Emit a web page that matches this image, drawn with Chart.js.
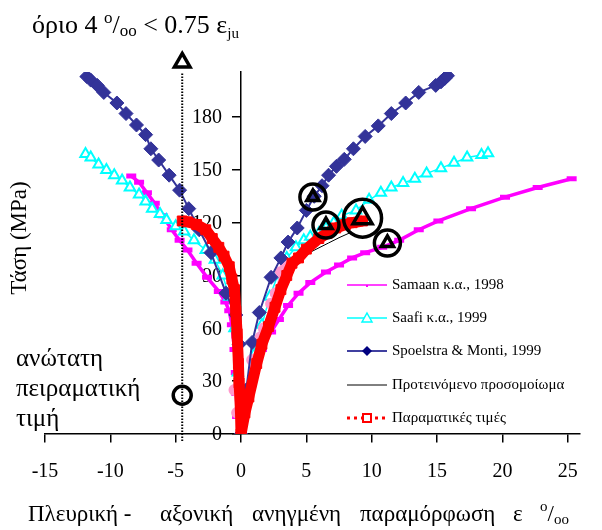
<!DOCTYPE html>
<html>
<head>
<meta charset="utf-8">
<script src="https://cdn.jsdelivr.net/npm/chart.js@4.4.0/dist/chart.umd.min.js"></script>
<style>
  body { margin: 0; background: #fff; }
</style>
</head>
<body>
<canvas id="stressChart" width="602" height="530"></canvas>
<script>
// strain (o/oo) and stress (MPa) for each curve, lateral branch first (negative strain)
var samaanX = [-8.4, -7.8, -7.2, -6.6, -6.0, -5.3, -4.7, -4.1, -3.4, -2.6, -1.7, -1.2, -0.9, -0.7, -0.5, -0.4, -0.35, -0.3, 0,
               0.1, 0.8, 1.6, 2.3, 2.9, 3.6, 4.4, 5.3, 6.5, 7.5, 8.5, 9.5, 10.8, 12.1, 13.6, 15.1, 17.6, 20.2, 22.7, 25.3];
var samaanY = [146.5, 143, 137, 131, 124, 116, 110, 104.5, 97, 89, 81, 75, 70, 62, 48, 35, 23, 10, 0,
               10, 28, 48, 58, 65, 73, 80, 86, 92, 96, 100, 103, 106, 110, 116, 121, 128, 134.5, 140, 145];

var saafiX = [-11.9, -11.5, -10.9, -10.3, -9.7, -9.1, -8.5, -7.8, -7.3, -6.8, -6.2, -5.7, -5.0, -4.35, -3.6, -2.7, -2.0, -1.4, -0.9, -0.5, -0.25, 0,
              0.5, 1.0, 1.6, 2.2, 2.8, 3.5, 4.2, 4.8, 5.3, 5.95, 6.5, 7.1, 7.7, 8.8, 9.8, 10.7, 11.5, 12.4, 13.3, 14.2, 15.3, 16.3, 17.3, 18.4, 18.9];
var saafiY = [159, 157, 153, 150, 147, 144, 140, 136, 132, 128, 125, 121.5, 118, 115, 110, 104.5, 99, 90, 78, 60, 35, 0,
              25, 45, 62, 78, 90, 100, 106, 110, 112, 114, 117, 120, 124, 127, 133, 137, 140, 142.5, 145, 148, 151, 154, 157, 158.5, 159.5];

var spoelstraX = [-11.8, -11.5, -11.0, -10.5, -9.5, -8.8, -8.0, -7.3, -6.9, -6.3, -5.5, -4.7, -4.0, -3.2, -2.3, -1.15, -0.4, -0.15, 0,
                  0.4, 0.85, 1.4, 2.3, 3.05, 3.6, 4.3, 5.0, 5.6, 6.2, 6.7, 7.3, 7.9, 8.6, 9.5, 10.5, 11.5, 12.6, 13.6, 14.9, 15.3, 15.6, 15.8];
var spoelstraY = [203, 201, 198, 194, 188, 182, 175.5, 170, 162, 155.6, 147, 138.5, 128, 116, 103, 80, 67.6, 51, 0,
                  25, 52, 69, 89, 100, 109, 117, 127, 135, 141, 147, 152, 156, 162, 169, 175, 182, 188, 194, 198, 200, 202, 203.5];

var modelX = [-4.5, -3.4, -2.2, -1.3, -0.7, -0.4, -0.2, 0,
              0.5, 1.0, 1.5, 2.0, 3.0, 4.0, 4.7, 5.5, 6.7, 7.5, 8.4];
var modelY = [120, 117, 110, 100, 85, 60, 30, 0,
              20, 37, 51, 63, 82, 95, 100, 104, 108.5, 111.5, 114.5];

var testX = [-4.5, -4.1, -3.4, -2.7, -2.2, -1.7, -1.3, -0.9, -0.7, -0.5, -0.4, -0.3, -0.2, -0.15, -0.05, 0,
             0.3, 0.6, 1.2, 1.6, 2.1, 2.6, 3.05, 3.5, 3.9, 4.4, 5.0, 5.95, 6.6, 7.25, 8.0, 8.5, 9.3];
var testY = [121, 120.5, 119, 116, 111, 106, 101, 95, 88, 82, 70, 57, 40, 29, 15, 0,
             12, 21, 40, 51, 61, 72, 82, 90, 97, 100, 105, 111, 114, 117, 119, 120, 121];

var pinkX = [-0.5, -0.3, 0, 0.3, 0.85, 1.5, 1.75, 2.3, 2.65, 3.05, 3.4];
var pinkY = [25, 12, 0, 20, 42, 55, 60, 74, 80, 92, 97];

// ultimate points of the models, ringed
var peakX = [5.5, 6.5, 9.3, 11.2];
var peakY = [134.6, 118.7, 122.6, 108.5];
var peakRing = [13, 13, 19, 13];
var peakTri = [7, 7, 11, 7];

// 4 o/oo strain limit and highest measured value
var limitX = -4.5;
var limitTop = 211;
var maxTestY = 22;

var seriesNames = ['Samaan κ.α., 1998', 'Saafi κ.α., 1999', 'Spoelstra & Monti, 1999',
                   'Προτεινόμενο προσομοίωμα', 'Παραματικές τιμές'];

var xTicks = [-15, 25, 5];
var yTicks = [0, 180, 30];

var SERIF = '"Liberation Serif", "Times New Roman", serif';
var NAVY = '#333399';

function pts(xs, ys) {
  return xs.map(function (x, i) { return { x: x, y: ys[i] }; });
}

function drawRuns(ctx, x, y, runs) {
  runs.forEach(function (r) {
    ctx.font = r.s + 'px ' + SERIF;
    if (r.x !== undefined) x = r.x;
    ctx.fillText(r.t, x, y + (r.dy || 0));
    x += ctx.measureText(r.t).width;
  });
}

var textPlugin = {
  id: 'texts',
  // y tick labels sit under the curves
  beforeDatasetsDraw: function (chart) {
    var ctx = chart.ctx;
    var ys = chart.scales.y;
    var x0 = chart.scales.x.getPixelForValue(0);
    ctx.save();
    ctx.fillStyle = '#000';
    ctx.font = '20px ' + SERIF;
    ctx.textAlign = 'right';
    ctx.textBaseline = 'middle';
    ys.ticks.forEach(function (t) {
      ctx.fillText(String(t.value), x0 - 19, ys.getPixelForValue(t.value) + 1);
    });
    ctx.restore();
  },
  afterDraw: function (chart) {
    var ctx = chart.ctx;
    ctx.save();
    ctx.fillStyle = '#000';
    ctx.textAlign = 'left';
    ctx.textBaseline = 'alphabetic';

    // heading
    drawRuns(ctx, 32, 33, [
      { t: 'όριο 4 ', s: 26 }, { t: 'o', s: 17, dy: -10 }, { t: '/', s: 26 },
      { t: 'oo', s: 17, dy: 3 }, { t: ' < 0.75 ε', s: 26 }, { t: 'ju', s: 15, dy: 5 }
    ]);

    // x title
    drawRuns(ctx, 28, 521, [
      { t: 'Πλευρική -', s: 23, x: 28 }, { t: 'αξονική', s: 23, x: 160 },
      { t: 'ανηγμένη', s: 23, x: 252 }, { t: 'παραμόρφωση', s: 23, x: 360 },
      { t: 'ε', s: 23, x: 513 }, { t: 'o', s: 15, dy: -10, x: 540 },
      { t: '/', s: 23 }, { t: 'oo', s: 15, dy: 3 }
    ]);

    // notes beside the limit line
    ctx.font = '25px ' + SERIF;
    ctx.fillText('ανώτατη', 16, 366);
    ctx.fillText('πειραματική', 16, 396);
    ctx.fillText('τιμή', 16, 426);

    // y title
    ctx.save();
    ctx.translate(26, 238);
    ctx.rotate(-Math.PI / 2);
    ctx.textAlign = 'center';
    ctx.font = '23px ' + SERIF;
    ctx.fillText('Τάση (MPa)', 0, 0);
    ctx.restore();

    // legend
    var rows = [285, 318, 351, 385, 418];
    ctx.font = '15px ' + SERIF;
    ctx.textBaseline = 'middle';
    rows.forEach(function (y, i) {
      ctx.save();
      ctx.lineWidth = 1.5;
      if (i === 0) ctx.strokeStyle = '#ff00ff';
      if (i === 1) ctx.strokeStyle = '#00ffff';
      if (i === 2) ctx.strokeStyle = '#000080';
      if (i === 3) { ctx.strokeStyle = '#000'; ctx.lineWidth = 1; }
      if (i === 4) { ctx.strokeStyle = '#ff0000'; ctx.lineWidth = 3; ctx.setLineDash([3, 4]); }
      ctx.beginPath();
      ctx.moveTo(347, y);
      ctx.lineTo(387, y);
      ctx.stroke();
      ctx.setLineDash([]);
      if (i === 0) {
        ctx.lineWidth = 2;
        ctx.beginPath(); ctx.moveTo(367, y); ctx.lineTo(367, y + 2); ctx.stroke();
      }
      if (i === 1) {
        ctx.fillStyle = '#fff';
        ctx.lineWidth = 1.5;
        ctx.beginPath();
        ctx.moveTo(367, y - 5); ctx.lineTo(372, y + 4); ctx.lineTo(362, y + 4); ctx.closePath();
        ctx.fill(); ctx.stroke();
      }
      if (i === 2) {
        ctx.fillStyle = '#000080';
        ctx.beginPath();
        ctx.moveTo(367, y - 5); ctx.lineTo(372, y); ctx.lineTo(367, y + 5); ctx.lineTo(362, y); ctx.closePath();
        ctx.fill();
      }
      if (i === 4) {
        ctx.fillStyle = '#fff';
        ctx.lineWidth = 2;
        ctx.fillRect(363, y - 4, 8, 8);
        ctx.strokeRect(363, y - 4, 8, 8);
      }
      ctx.restore();
      ctx.fillStyle = '#000';
      ctx.fillText(seriesNames[i], 392, y);
    });
    ctx.restore();
  }
};

new Chart(document.getElementById('stressChart').getContext('2d'), {
  type: 'scatter',
  data: {
    datasets: [
      {
        label: 'peaks', data: pts(peakX, peakY), order: 0,
        pointStyle: 'circle', pointRadius: peakRing, pointBorderWidth: 3.5,
        pointBorderColor: '#000', pointBackgroundColor: 'rgba(0,0,0,0)'
      },
      {
        label: 'peaks-tri', data: pts(peakX, peakY), order: 0,
        pointStyle: 'triangle', pointRadius: peakTri, pointBorderWidth: 3.5,
        pointBorderColor: '#000', pointBackgroundColor: 'rgba(0,0,0,0)'
      },
      {
        label: 'limit', data: [{ x: limitX, y: -4 }, { x: limitX, y: limitTop - 6 }], order: 1,
        showLine: true, borderColor: '#000', borderWidth: 2, borderDash: [1.5, 1.5],
        pointRadius: 0, clip: false
      },
      {
        label: 'limit-top', data: [{ x: limitX, y: limitTop }], order: 1,
        pointStyle: 'triangle', pointRadius: 9, pointBorderWidth: 3.5,
        pointBorderColor: '#000', pointBackgroundColor: '#fff', clip: false
      },
      {
        label: 'max-test', data: [{ x: limitX, y: maxTestY }], order: 1,
        pointStyle: 'circle', pointRadius: 9, pointBorderWidth: 3.5,
        pointBorderColor: '#000', pointBackgroundColor: 'rgba(0,0,0,0)'
      },
      {
        label: seriesNames[4], data: pts(testX, testY), order: 2,
        showLine: true, borderColor: '#ff0000', borderWidth: 11,
        pointStyle: 'rect', pointRadius: 7, pointBackgroundColor: '#ff0000', pointBorderColor: '#ff0000', pointBorderWidth: 1
      },
      {
        label: seriesNames[3], data: pts(modelX, modelY), order: 3,
        showLine: true, borderColor: '#000', borderWidth: 1, pointRadius: 0
      },
      {
        label: seriesNames[2], data: pts(spoelstraX, spoelstraY), order: 4,
        showLine: true, borderColor: NAVY, borderWidth: 2,
        pointStyle: 'rectRot', pointRadius: 7, pointBackgroundColor: NAVY, pointBorderColor: NAVY, pointBorderWidth: 1
      },
      {
        label: 'pink', data: pts(pinkX, pinkY), order: 5,
        showLine: true, borderColor: '#ff99cc', borderWidth: 2,
        pointStyle: 'circle', pointRadius: 5, pointBackgroundColor: '#ff99cc', pointBorderColor: '#ff99cc'
      },
      {
        label: seriesNames[1], data: pts(saafiX, saafiY), order: 6,
        showLine: true, borderColor: '#00ffff', borderWidth: 1.5,
        pointStyle: 'triangle', pointRadius: 6, pointBackgroundColor: '#fff', pointBorderColor: '#00ffff', pointBorderWidth: 2
      },
      {
        label: seriesNames[0], data: pts(samaanX, samaanY), order: 7,
        showLine: true, borderColor: '#ff00ff', borderWidth: 3.5,
        pointStyle: 'line', pointRadius: 5, pointBorderColor: '#ff00ff', pointBorderWidth: 5
      }
    ]
  },
  options: {
    responsive: false,
    animation: false,
    events: [],
    layout: { padding: { left: 45, right: 19, top: 72, bottom: 96 } },
    plugins: { legend: { display: false }, tooltip: { enabled: false } },
    scales: {
      x: {
        type: 'linear', position: { y: 0 }, min: xTicks[0], max: 25.9,
        border: { display: true, color: '#000', width: 1.5 },
        grid: { drawOnChartArea: false, drawTicks: true, tickLength: 8, color: '#000', lineWidth: 1.5 },
        ticks: { stepSize: xTicks[2], includeBounds: false, color: '#000', padding: 18, font: { family: SERIF, size: 20 } }
      },
      y: {
        type: 'linear', position: { x: 0 }, min: yTicks[0], max: 205.6,
        border: { display: true, color: '#000', width: 1.5 },
        grid: { drawOnChartArea: false, drawTicks: true, tickLength: 8, color: '#000', lineWidth: 1.5 },
        ticks: { stepSize: yTicks[2], includeBounds: false, display: false }
      }
    }
  },
  plugins: [textPlugin]
});
</script>
</body>
</html>
